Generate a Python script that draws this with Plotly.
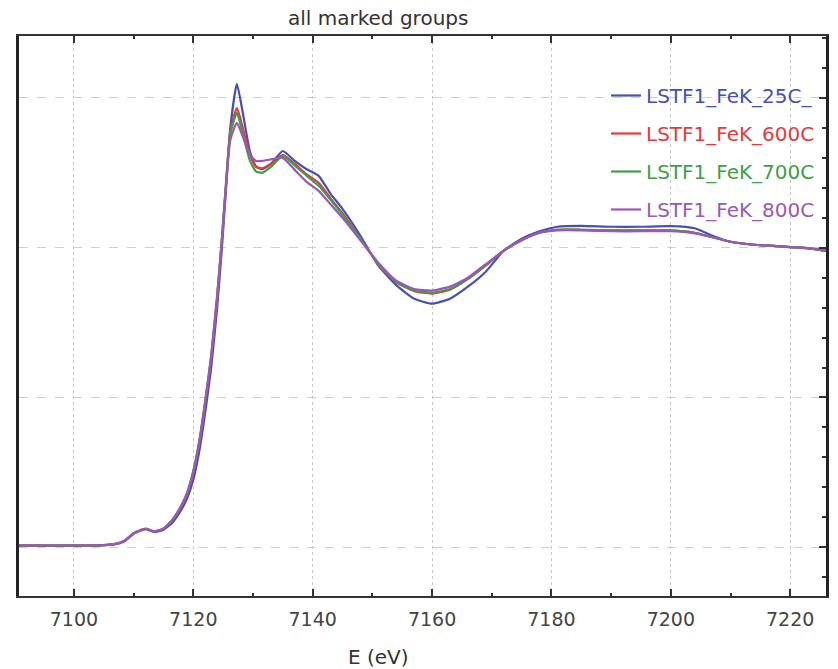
import plotly.graph_objects as go

# Energies (eV)
E = [7090, 7095, 7100, 7105, 7107, 7108.5, 7110, 7112, 7113.5, 7115, 7116.5, 7118, 7119,
     7120, 7121, 7122, 7123, 7124, 7124.8, 7125.5, 7126.2, 7127.3, 7128.3, 7129.5, 7130.5,
     7131.5, 7133, 7135, 7137, 7139, 7141, 7143, 7145, 7148, 7151, 7154, 7157, 7160, 7163,
     7166, 7169, 7172, 7175, 7178, 7181, 7185, 7190, 7195, 7200, 7204, 7207, 7210, 7214,
     7218, 7222, 7226]

mu_25C = [0.005, 0.005, 0.005, 0.007, 0.010, 0.020, 0.045, 0.060, 0.050, 0.058, 0.082, 0.125, 0.165,
          0.225, 0.320, 0.450, 0.600, 0.800, 1.000, 1.200, 1.400, 1.547, 1.450, 1.320, 1.272,
          1.262, 1.280, 1.323, 1.290, 1.262, 1.240, 1.180, 1.130, 1.040, 0.940, 0.875, 0.830, 0.813, 0.830,
          0.870, 0.920, 0.990, 1.030, 1.055, 1.070, 1.073, 1.070, 1.070, 1.072, 1.065, 1.040, 1.020, 1.010,
          1.005, 1.000, 0.990]

mu_600C = [0.005, 0.005, 0.005, 0.007, 0.011, 0.022, 0.047, 0.062, 0.053, 0.062, 0.090, 0.135, 0.180,
           0.250, 0.350, 0.480, 0.630, 0.830, 1.030, 1.220, 1.390, 1.467, 1.400, 1.310, 1.270,
           1.265, 1.280, 1.310, 1.280, 1.245, 1.217, 1.165, 1.115, 1.030, 0.945, 0.885, 0.855, 0.847, 0.860,
           0.895, 0.940, 0.990, 1.025, 1.050, 1.060, 1.060, 1.058, 1.058, 1.058, 1.050, 1.035, 1.020, 1.010,
           1.005, 1.000, 0.990]

mu_700C = [0.005, 0.005, 0.005, 0.007, 0.011, 0.022, 0.046, 0.061, 0.052, 0.062, 0.092, 0.140, 0.185,
           0.255, 0.355, 0.490, 0.640, 0.840, 1.030, 1.220, 1.380, 1.450, 1.380, 1.290, 1.255,
           1.250, 1.270, 1.307, 1.275, 1.240, 1.207, 1.160, 1.110, 1.030, 0.945, 0.885, 0.857, 0.850, 0.862,
           0.897, 0.942, 0.990, 1.025, 1.050, 1.060, 1.060, 1.058, 1.058, 1.058, 1.050, 1.035, 1.020, 1.010,
           1.005, 1.000, 0.990]

mu_800C = [0.005, 0.005, 0.005, 0.007, 0.011, 0.022, 0.046, 0.060, 0.052, 0.062, 0.090, 0.138, 0.182,
           0.250, 0.350, 0.485, 0.640, 0.840, 1.030, 1.210, 1.360, 1.417, 1.370, 1.310, 1.290,
           1.290, 1.295, 1.300, 1.260, 1.220, 1.190, 1.145, 1.100, 1.025, 0.950, 0.890, 0.862, 0.857, 0.870,
           0.900, 0.945, 0.990, 1.025, 1.050, 1.058, 1.058, 1.055, 1.055, 1.055, 1.048, 1.035, 1.020, 1.010,
           1.005, 1.000, 0.990]

names = ["LSTF1_FeK_25C_", "LSTF1_FeK_600C", "LSTF1_FeK_700C", "LSTF1_FeK_800C"]
series = [mu_25C, mu_600C, mu_700C, mu_800C]
colors = ["#4650b4", "#e8383c", "#3f9e46", "#9a58b8"]

x_ticks = [7100, 7120, 7140, 7160, 7180, 7200, 7220]

fig = go.Figure()
for i, (nm, ys, c) in enumerate(zip(names, series, colors)):
    fig.add_trace(go.Scatter(
        x=E, y=ys, mode="lines",
        line=dict(color=c, width=2.2, shape="spline", smoothing=0.5),
        name=f'<span style="color:{c}">{nm}</span>',
        legendgroup=f"g{i}",
    ))

W, H = 838, 669
L, R, T, B = 19, 12, 36, 73
PW, PH = W - L - R, H - T - B

fig.update_layout(
    width=W, height=H,
    margin=dict(l=L, r=R, t=T, b=B),
    paper_bgcolor="white",
    plot_bgcolor="white",
    showlegend=True,
    legend=dict(
        x=(606 - L) / PW, y=(596 - 76) / PH,
        xanchor="left", yanchor="top",
        bgcolor="rgba(0,0,0,0)", borderwidth=0,
        font=dict(family="DejaVu Sans", size=20, color="#444"),
        tracegroupgap=9,
    ),
    xaxis=dict(
        range=[7090.8, 7226],
        tickvals=x_ticks,
        ticktext=[str(v) for v in x_ticks],
        ticks="inside", ticklen=7, tickwidth=1.5, tickcolor="#333",
        minor=dict(dtick=10, tick0=7090, ticks="inside", ticklen=3, tickcolor="#333",
                   showgrid=False),
        showline=True, linecolor="#333", linewidth=1.5, mirror="ticks",
        showgrid=True, gridcolor="#c8c8c8", griddash="dot", gridwidth=1,
        zeroline=False,
        tickfont=dict(family="DejaVu Sans", size=19, color="#444"),
        ticklabelstandoff=5,
    ),
    yaxis=dict(
        range=[-0.163, 1.707],
        tickvals=[0, 0.5, 1.0, 1.5],
        showticklabels=False,
        side="right",
        ticks="inside", ticklen=7, tickwidth=1.5, tickcolor="#333",
        minor=dict(dtick=0.1, ticks="inside", ticklen=4, tickcolor="#333", showgrid=False),
        showline=True, linecolor="#222", linewidth=2.5, mirror=True,
        showgrid=True, gridcolor="#cfcfcf", griddash="dash", gridwidth=1,
        zeroline=False,
    ),
    annotations=[
        dict(text="all marked groups", xref="paper", yref="paper",
             x=(378 - L) / PW, y=(596 - 18) / PH,
             xanchor="center", yanchor="middle", showarrow=False,
             font=dict(family="DejaVu Sans", size=20, color="#333")),
        dict(text="E (eV)", xref="paper", yref="paper",
             x=(378 - L) / PW, y=(596 - 657) / PH,
             xanchor="center", yanchor="middle", showarrow=False,
             font=dict(family="DejaVu Sans", size=20, color="#333")),
    ],
)

fig.write_html("out.html")
